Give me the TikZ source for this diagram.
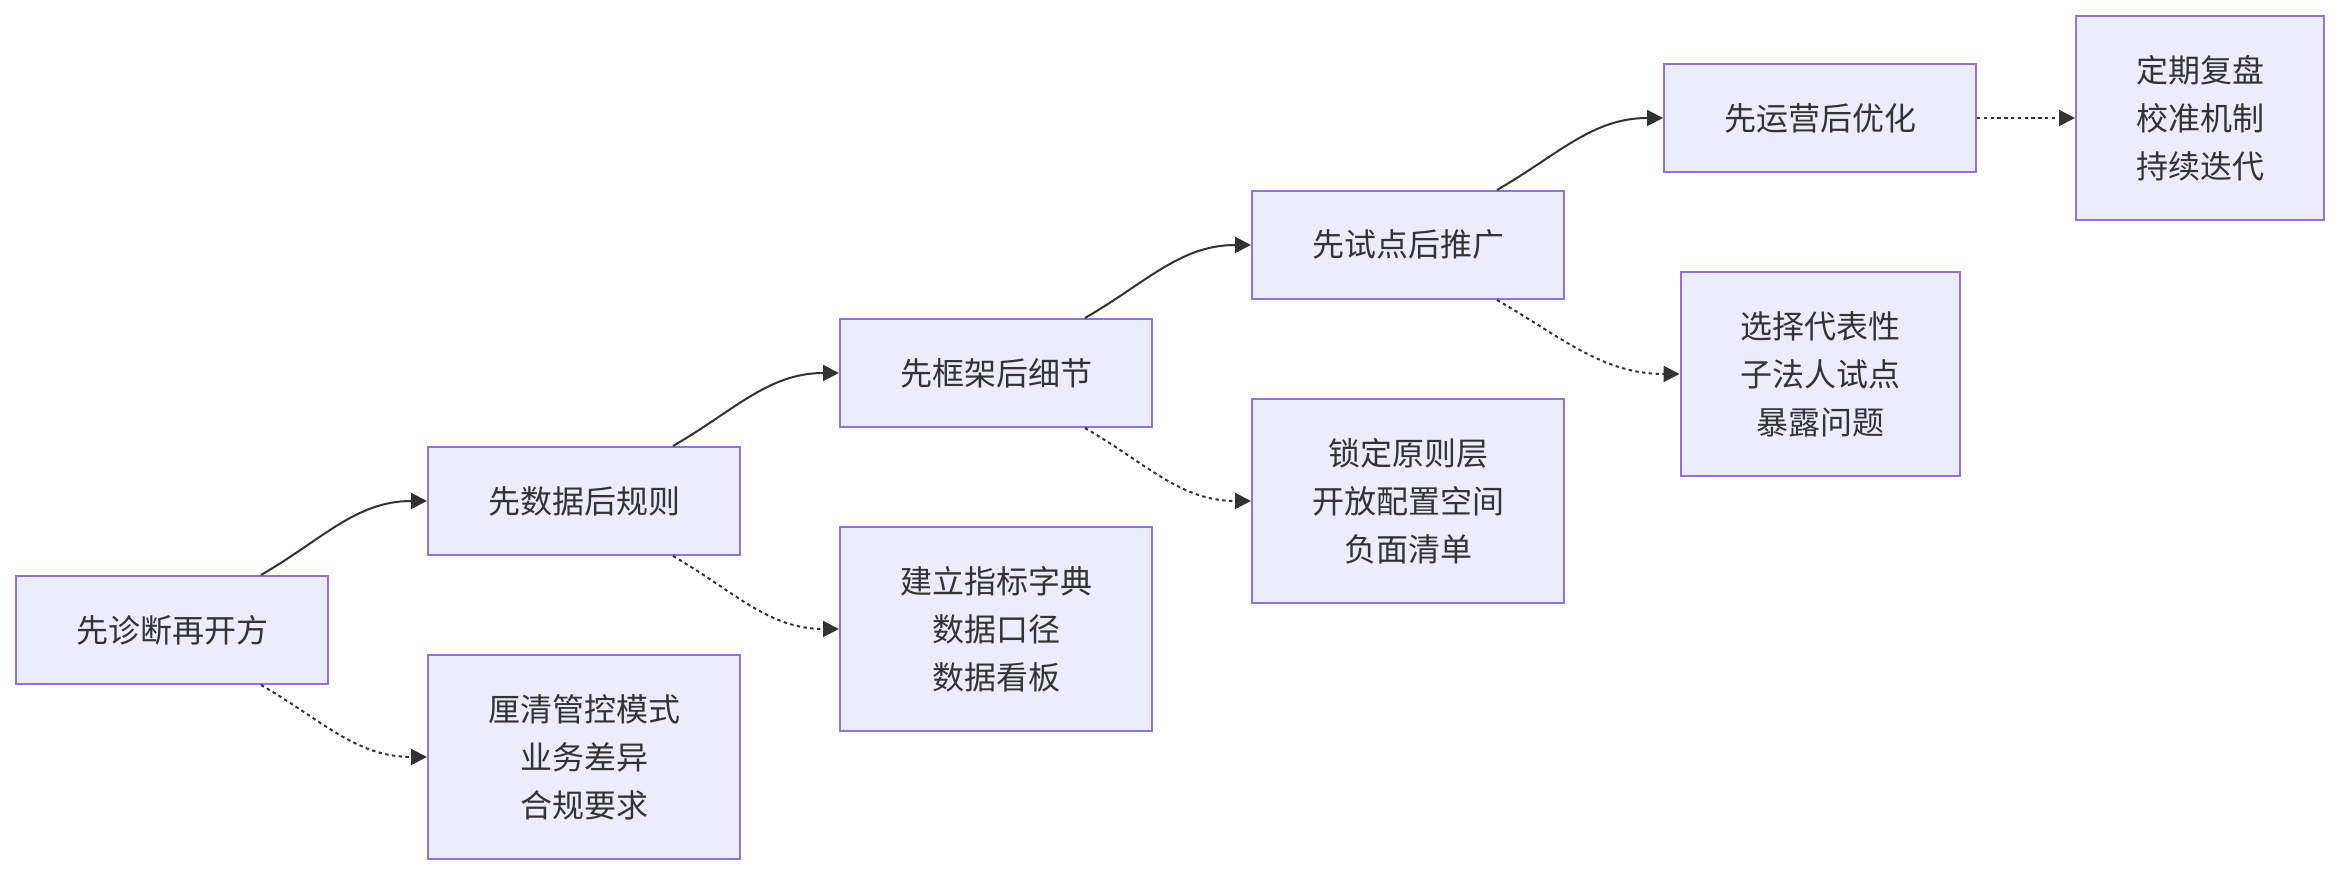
\documentclass[tikz,border=0pt]{standalone}
\usepackage{fontspec}
\setmainfont{Noto Sans CJK SC}
\usetikzlibrary{arrows.meta}
\definecolor{boxfill}{HTML}{ECECFF}
\definecolor{boxline}{HTML}{9370DB}
\definecolor{ink}{HTML}{333333}

\begin{document}
\begin{tikzpicture}[x=0.5pt, y=0.5pt, font=\fontsize{16}{24}\selectfont, text=ink,
  box/.style={draw=boxline, fill=boxfill, line width=1pt, inner sep=0pt, minimum width=156pt, align=center},
  onerow/.style={box, minimum height=54pt},
  threerow/.style={box, minimum height=102pt},
  flow/.style={draw=ink, line width=1pt, -{Triangle[length=8pt,width=8pt]}},
  side/.style={flow, dash pattern=on 1.7pt off 1.7pt}]
\useasboundingbox (0,0) rectangle (2340,876);
% main chain
\node[onerow] (diag) at (172,246) {先诊断再开方};
\node[onerow] (data) at (584,375) {先数据后规则};
\node[onerow] (frame) at (996,503) {先框架后细节};
\node[onerow] (pilot) at (1408,631) {先试点后推广};
\node[onerow] (ops) at (1820,758) {先运营后优化};
% details
\node[threerow] (clarify) at (584,119) {厘清管控模式\\业务差异\\合规要求};
\node[threerow] (dict) at (996,247) {建立指标字典\\数据口径\\数据看板};
\node[threerow] (config) at (1408,375) {锁定原则层\\开放配置空间\\负面清单};
\node[threerow, minimum width=139.5pt] (sample) at (1820,502) {选择代表性\\子法人试点\\暴露问题};
\node[threerow, minimum width=124pt] (review) at (2200,758) {定期复盘\\校准机制\\持续迭代};
% connectors
\draw[flow] ([xshift=44.5pt]diag.north) to[out=30,in=180] (data.west);
\draw[side] ([xshift=44.5pt]diag.south) to[out=-30,in=180] (clarify.west);
\draw[flow] ([xshift=44.5pt]data.north) to[out=30,in=180] (frame.west);
\draw[side] ([xshift=44.5pt]data.south) to[out=-30,in=180] (dict.west);
\draw[flow] ([xshift=44.5pt]frame.north) to[out=30,in=180] (pilot.west);
\draw[side] ([xshift=44.5pt]frame.south) to[out=-30,in=180] (config.west);
\draw[flow] ([xshift=44.5pt]pilot.north) to[out=30,in=180] (ops.west);
\draw[side] ([xshift=44.5pt]pilot.south) to[out=-30,in=180] (sample.west);
\draw[side] (ops.east) -- (review.west);
\end{tikzpicture}
\end{document}
